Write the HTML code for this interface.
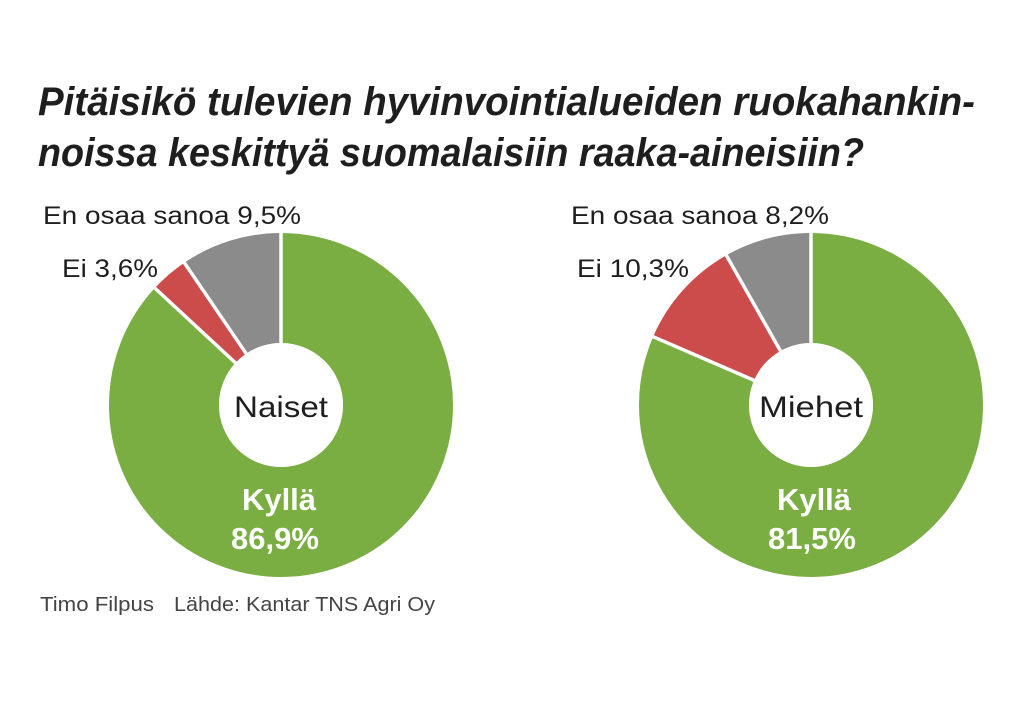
<!DOCTYPE html>
<html><head><meta charset="utf-8"><style>
html,body{margin:0;padding:0;background:#fff;}
svg{display:block;}
text{font-family:"Liberation Sans",sans-serif;fill:#1e1e1e;}
</style></head><body>
<svg width="1019" height="702" viewBox="0 0 1019 702" xmlns="http://www.w3.org/2000/svg">
<rect width="1019" height="702" fill="#fff"/>
<text x="38" y="115" font-size="40" font-weight="bold" font-style="italic" textLength="937" lengthAdjust="spacingAndGlyphs">Pitäisikö tulevien hyvinvointialueiden ruokahankin-</text>
<text x="38" y="166" font-size="40" font-weight="bold" font-style="italic" textLength="826" lengthAdjust="spacingAndGlyphs">noissa keskittyä suomalaisiin raaka-aineisiin?</text>

<g transform="rotate(-90 281 405)" fill="none" stroke-width="110">
<circle cx="281" cy="405" r="117" stroke="#7aae42" stroke-dasharray="638.8 1000"/>
<circle cx="281" cy="405" r="117" stroke="#cc4b4b" stroke-dasharray="0 638.8 26.5 1000"/>
<circle cx="281" cy="405" r="117" stroke="#8b8b8b" stroke-dasharray="0 665.3 70 1000"/>
</g>
<g stroke="#fff" stroke-width="3.5">
<line x1="281" y1="230" x2="281" y2="345"/>
<line x1="154.9" y1="288.1" x2="235.5" y2="362.9"/>
<line x1="184.3" y1="262.7" x2="246.2" y2="353.7"/>
</g>
<circle cx="281" cy="405" r="62" fill="#fff"/>
<text x="281" y="417" font-size="30" text-anchor="middle" textLength="94" lengthAdjust="spacingAndGlyphs">Naiset</text>
<text x="279" y="510" font-size="31" font-weight="bold" text-anchor="middle" style="fill:#fff">Kyllä</text>
<text x="275" y="549" font-size="31" font-weight="bold" text-anchor="middle" style="fill:#fff">86,9%</text>
<text x="43" y="224" font-size="25" textLength="258" lengthAdjust="spacingAndGlyphs">En osaa sanoa 9,5%</text>
<text x="62" y="277" font-size="25" textLength="96" lengthAdjust="spacingAndGlyphs">Ei 3,6%</text>

<g transform="rotate(-90 811 405)" fill="none" stroke-width="110">
<circle cx="811" cy="405" r="117" stroke="#7aae42" stroke-dasharray="599.1 1000"/>
<circle cx="811" cy="405" r="117" stroke="#cc4b4b" stroke-dasharray="0 599.1 75.8 1000"/>
<circle cx="811" cy="405" r="117" stroke="#8b8b8b" stroke-dasharray="0 674.9 61 1000"/>
</g>
<g stroke="#fff" stroke-width="3.5">
<line x1="811" y1="230" x2="811" y2="345"/>
<line x1="653.1" y1="336.7" x2="754.1" y2="380.4"/>
<line x1="726.3" y1="255.3" x2="780.5" y2="351"/>
</g>
<circle cx="811" cy="405" r="62" fill="#fff"/>
<text x="811" y="417" font-size="30" text-anchor="middle" textLength="104" lengthAdjust="spacingAndGlyphs">Miehet</text>
<text x="814" y="510" font-size="31" font-weight="bold" text-anchor="middle" style="fill:#fff">Kyllä</text>
<text x="812" y="549" font-size="31" font-weight="bold" text-anchor="middle" style="fill:#fff">81,5%</text>
<text x="571" y="224" font-size="25" textLength="258" lengthAdjust="spacingAndGlyphs">En osaa sanoa 8,2%</text>
<text x="577" y="277" font-size="25" textLength="112" lengthAdjust="spacingAndGlyphs">Ei 10,3%</text>

<text x="40" y="611" font-size="20" style="fill:#444" textLength="114" lengthAdjust="spacingAndGlyphs">Timo Filpus</text>
<text x="174" y="611" font-size="20" style="fill:#444" textLength="261" lengthAdjust="spacingAndGlyphs">Lähde: Kantar TNS Agri Oy</text>
</svg>
</body></html>
